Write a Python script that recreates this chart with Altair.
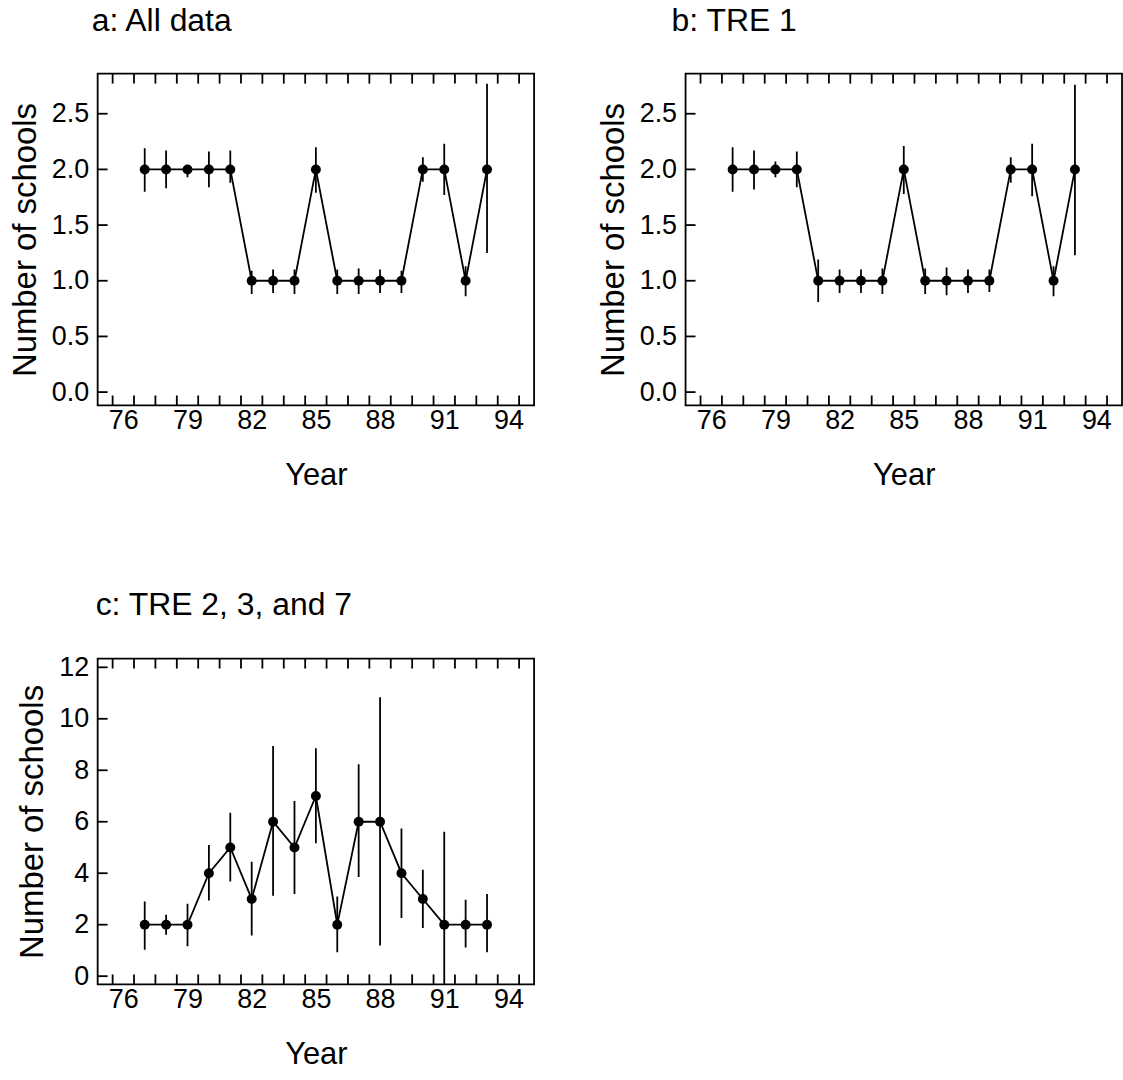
import altair as alt
import pandas as pd

years = list(range(77, 94))

a_val = [2, 2, 2, 2, 2, 1, 1, 1, 2, 1, 1, 1, 1, 2, 2, 1, 2]
a_lo = [1.80, 1.83, 1.93, 1.84, 1.88, 0.88, 0.89, 0.88, 1.79, 0.88, 0.88, 0.89, 0.89, 1.89, 1.77, 0.86, 1.25]
a_hi = [2.19, 2.17, 2.04, 2.16, 2.17, 1.09, 1.10, 1.10, 2.20, 1.10, 1.11, 1.10, 1.09, 2.11, 2.23, 1.13, 2.77]

b_val = [2, 2, 2, 2, 1, 1, 1, 1, 2, 1, 1, 1, 1, 2, 2, 1, 2]
b_lo = [1.80, 1.82, 1.93, 1.84, 0.81, 0.89, 0.89, 0.88, 1.78, 0.88, 0.87, 0.89, 0.90, 1.88, 1.76, 0.86, 1.23]
b_hi = [2.20, 2.17, 2.07, 2.16, 1.19, 1.10, 1.10, 1.11, 2.21, 1.11, 1.12, 1.10, 1.10, 2.11, 2.23, 1.13, 2.76]

c_val = [2, 2, 2, 4, 5, 3, 6, 5, 7, 2, 6, 6, 4, 3, 2, 2, 2]
c_lo = [1.03, 1.61, 1.16, 2.94, 3.68, 1.58, 3.12, 3.19, 5.16, 0.93, 3.85, 1.19, 2.26, 1.87, -1.6, 1.11, 0.93]
c_hi = [2.90, 2.39, 2.81, 5.10, 6.35, 4.45, 8.94, 6.81, 8.86, 3.10, 8.23, 10.84, 5.74, 4.13, 5.61, 2.97, 3.19]

x_labels = [76, 79, 82, 85, 88, 91, 94]
x_minor = [75.5 + i for i in range(20)]
ab_yticks = [0.0, 0.5, 1.0, 1.5, 2.0, 2.5]
c_yticks = [0, 2, 4, 6, 8, 10, 12]

FONT = "Liberation Sans"
W = 438
SW = 1.8


def panel(title, vals, lo, hi, ydom, yticks, yfmt, H, dx, toff):
    df = pd.DataFrame({"year": years, "v": vals, "lo": lo, "hi": hi})
    xs = alt.Scale(domain=[74.8, 95.2], nice=False, zero=False)
    ys = alt.Scale(domain=ydom, nice=False, zero=False)
    xax = alt.Axis(values=x_labels, ticks=False, tickSize=0, domain=False, grid=False,
                   labelPadding=2, title="Year", titlePadding=27, format="d")
    yax = alt.Axis(values=yticks, ticks=False, tickSize=0, domain=False, grid=False,
                   labelPadding=9, title="Number of schools", titlePadding=9, format=yfmt)
    base = alt.Chart(df)
    err = base.mark_rule(color="black", strokeWidth=SW, clip=True).encode(
        x=alt.X("year:Q", scale=xs, axis=xax),
        y=alt.Y("lo:Q", scale=ys, axis=yax),
        y2="hi:Q",
    )
    line = base.mark_line(color="black", strokeWidth=SW).encode(
        x=alt.X("year:Q", scale=xs, axis=xax),
        y=alt.Y("v:Q", scale=ys, axis=yax),
    )
    pts = base.mark_point(filled=True, size=100, color="black", opacity=1).encode(
        x=alt.X("year:Q", scale=xs, axis=xax),
        y=alt.Y("v:Q", scale=ys, axis=yax),
    )
    xt = alt.Chart(pd.DataFrame({"year": x_minor}))
    xt_bot = xt.mark_rule(color="black", strokeWidth=SW).encode(
        x=alt.X("year:Q", scale=xs, axis=xax), y=alt.value(H), y2=alt.value(H - 10))
    xt_top = xt.mark_rule(color="black", strokeWidth=SW).encode(
        x=alt.X("year:Q", scale=xs, axis=xax), y=alt.value(0), y2=alt.value(10))
    yt = alt.Chart(pd.DataFrame({"v": yticks})).mark_rule(color="black", strokeWidth=SW).encode(
        y=alt.Y("v:Q", scale=ys, axis=yax), x=alt.value(0), x2=alt.value(10))
    return alt.layer(err, line, pts, xt_bot, xt_top, yt).properties(
        width=W, height=H,
        title=alt.TitleParams(title, anchor="start", frame="group", dx=dx, offset=toff,
                              fontSize=32, font=FONT, fontWeight="normal", color="black"),
    )


pa = panel("a: All data", a_val, a_lo, a_hi, [-0.12, 2.86], ab_yticks, ".1f", 333, -6, 35)
pb = panel("b: TRE 1", b_val, b_lo, b_hi, [-0.12, 2.86], ab_yticks, ".1f", 333, -14, 35)
pc = panel("c: TRE 2, 3, and 7", c_val, c_lo, c_hi, [-0.32, 12.34], c_yticks, "d", 327, -2, 31)

top = alt.hconcat(pa, pb, spacing=61)
chart = alt.vconcat(top, pc, spacing=97).properties(
    padding={"left": 8, "top": 2, "right": 0, "bottom": 0},
    background="white",
).configure_view(stroke="black", strokeWidth=SW).configure_axis(
    labelFont=FONT, labelFontSize=27, labelColor="black",
    titleFont=FONT, titleFontSize=31, titleFontWeight="normal", titleColor="black",
).configure_axisY(titleFontSize=33)

chart.save("out.html", embed_options={"renderer": "svg", "actions": False})
